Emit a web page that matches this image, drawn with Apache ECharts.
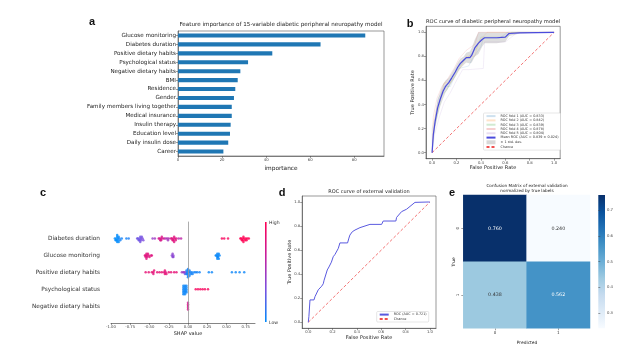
<!DOCTYPE html>
<html>
<head>
<meta charset="utf-8">
<script src="https://cdn.jsdelivr.net/npm/echarts@6.0.0/dist/echarts.min.js"></script>
<style>
  html, body { margin: 0; padding: 0; background: #fff; }
  #main { width: 640px; height: 351px; }
</style>
</head>
<body>
<div id="main"></div>
<script>
// ---- panel a: feature importance
const featureNames = ['Glucose monitoring', 'Diabetes duration', 'Positive dietary habits', 'Psychological status',
  'Negative dietary habits', 'BMI', 'Residence', 'Gender', 'Family members living together', 'Medical insurance',
  'Insulin therapy', 'Education level', 'Daily insulin dose', 'Career'];
const importance = [85.0, 64.7, 42.8, 31.8, 28.3, 27.1, 26.0, 25.4, 24.4, 24.4, 23.9, 23.6, 22.8, 20.6];
const importanceTicks = [0, 20, 40, 60, 80];

// ---- panel b: cross-validated ROC
const fold1 = [[0,0],[0,0.2],[0.03,0.3],[0.05,0.45],[0.08,0.5],[0.1,0.55],[0.15,0.55],[0.18,0.62],[0.22,0.7],[0.3,0.72],[0.33,0.78],[0.4,0.88],[0.42,0.95],[0.55,0.95],[0.62,1],[1,1]];
const fold2 = [[0,0],[0.01,0.25],[0.04,0.38],[0.06,0.42],[0.1,0.58],[0.15,0.58],[0.2,0.65],[0.24,0.72],[0.28,0.8],[0.35,0.8],[0.38,0.92],[0.45,1],[1,1]];
const fold3 = [[0,0],[0.02,0.22],[0.05,0.35],[0.08,0.48],[0.12,0.52],[0.16,0.6],[0.2,0.68],[0.25,0.75],[0.3,0.8],[0.36,0.86],[0.4,0.96],[0.62,0.96],[0.65,1],[1,1]];
const fold4 = [[0,0],[0.01,0.3],[0.04,0.45],[0.08,0.55],[0.12,0.6],[0.18,0.7],[0.22,0.78],[0.28,0.85],[0.35,0.9],[0.38,1],[1,1]];
const fold5 = [[0,0],[0.02,0.15],[0.06,0.3],[0.1,0.42],[0.15,0.5],[0.2,0.6],[0.25,0.69],[0.3,0.69],[0.42,0.7],[0.43,0.92],[0.6,0.92],[0.7,1],[1,1]];
const foldNames = ['ROC fold 1 (AUC = 0.833)', 'ROC fold 2 (AUC = 0.842)', 'ROC fold 3 (AUC = 0.839)',
  'ROC fold 4 (AUC = 0.878)', 'ROC fold 5 (AUC = 0.804)'];
const meanFpr = [0,0.01,0.025,0.045,0.065,0.09,0.11,0.135,0.16,0.19,0.21,0.23,0.26,0.28,0.31,0.325,0.35,0.38,0.41,0.43,0.53,0.6,0.63,0.72,1.0];
const meanTpr = [0,0.15,0.26,0.37,0.44,0.51,0.55,0.58,0.62,0.67,0.71,0.74,0.77,0.79,0.79,0.81,0.87,0.91,0.94,0.955,0.955,0.96,0.99,0.995,1.0];
const stdUpper = [0,0.2,0.32,0.44,0.5,0.57,0.6,0.62,0.66,0.71,0.75,0.78,0.8,0.83,0.84,0.87,0.94,1,1,1,1,1,1,1,1];
const stdLower = [0,0.1,0.2,0.3,0.38,0.45,0.5,0.54,0.58,0.63,0.67,0.7,0.73,0.75,0.74,0.75,0.8,0.82,0.88,0.91,0.91,0.92,0.97,0.99,1];
const rocTicks = [0, 0.2, 0.4, 0.6, 0.8, 1.0];

// ---- panel c: SHAP summary, [shap value, feature value 0..1]
const shapFeatures = ['Diabetes duration', 'Glucose monitoring', 'Positive dietary habits', 'Psychological status', 'Negative dietary habits'];
const shapDuration = [[-0.95,0],[-0.94,0],[-0.93,0],[-0.93,0],[-0.92,0],[-0.92,0],[-0.92,0],[-0.91,0],[-0.91,0],[-0.90,0],[-0.90,0],[-0.89,0.05],[-0.88,0.05],[-0.86,0.05],
  [-0.80,0.05],[-0.77,0.08],
  [-0.66,0.3],[-0.65,0.3],[-0.64,0.3],[-0.63,0.3],[-0.63,0.3],[-0.62,0.3],[-0.62,0.32],[-0.61,0.32],[-0.61,0.32],[-0.60,0.32],[-0.59,0.35],[-0.58,0.35],
  [-0.46,0.45],[-0.43,0.5],
  [-0.38,0.75],[-0.37,0.75],[-0.36,0.78],[-0.35,0.78],[-0.35,0.75],[-0.34,0.78],[-0.33,0.75],[-0.31,0.72],
  [-0.29,0.55],[-0.27,0.55],[-0.26,0.5],[-0.25,0.55],
  [-0.22,0.8],[-0.21,0.8],[-0.20,0.82],[-0.19,0.8],[-0.19,0.82],[-0.18,0.8],[-0.18,0.8],[-0.17,0.82],[-0.16,0.8],[-0.15,0.8],
  [-0.12,0.6],[-0.09,0.62],
  [0.44,0.95],[0.47,0.95],[0.52,0.95],
  [0.68,1],[0.69,1],[0.70,1],[0.71,1],[0.71,1],[0.72,1],[0.72,1],[0.73,1],[0.74,1],[0.75,1],[0.76,1],[0.77,1],[0.79,1]];
const shapGlucose = [[-0.56,0.82],[-0.55,0.82],[-0.55,0.8],[-0.54,0.82],[-0.54,0.8],[-0.53,0.82],[-0.53,0.8],[-0.52,0.82],[-0.51,0.8],[-0.50,0.82],[-0.48,0.8],[-0.47,0.8],
  [-0.21,0.4],[-0.20,0.4],[-0.20,0.42],[-0.19,0.4],[-0.19,0.4],
  [0.36,0.02],[0.37,0.02],[0.38,0.02],[0.38,0.02],[0.38,0.02],[0.39,0.02],[0.39,0.02],[0.40,0.02],[0.40,0.02],[0.41,0.02]];
const shapPositive = [[-0.55,0.85],[-0.51,0.85],[-0.47,0.85],[-0.45,0.85],[-0.45,0.82],[-0.44,0.85],[-0.40,0.85],[-0.37,0.85],[-0.34,0.85],[-0.31,0.82],[-0.30,0.85],[-0.30,0.85],[-0.29,0.82],[-0.28,0.85],[-0.25,0.85],[-0.22,0.85],[-0.18,0.85],[-0.15,0.85],
  [-0.08,0.5],[-0.06,0.45],[-0.05,0.5],[-0.04,0.3],[-0.03,0.4],
  [-0.02,0.05],[-0.02,0.05],[-0.01,0.05],[-0.01,0.05],[0,0.05],[0,0.05],[0,0.05],[0,0.05],[0.01,0.05],[0.01,0.05],[0.02,0.05],[0.02,0.05],[0.03,0.05],[0.04,0.05],[0.05,0.05],[0.06,0.05],[0.08,0.05],[0.10,0.05],[0.12,0.05],[0.15,0.05],
  [0.27,0.03],[0.31,0.03],
  [0.57,0.03],[0.62,0.03],[0.67,0.03],[0.73,0.03]];
const shapPsych = [[-0.06,0.03],[-0.06,0.03],[-0.06,0.03],[-0.06,0.03],[-0.06,0.03],[-0.06,0.03],
  [-0.04,0.03],[-0.04,0.03],[-0.04,0.03],[-0.04,0.03],[-0.04,0.03],[-0.04,0.03],
  [-0.02,0.03],[-0.02,0.03],[-0.02,0.03],[-0.02,0.03],[-0.02,0.03],
  [0.10,0.95],[0.13,0.95],[0.16,0.95],[0.19,0.95],[0.22,0.95],[0.26,0.95]];
const shapNegative = [[0,0.72],[0,0.75],[0,0.78],[0,0.75],[0,0.7]];
const shapTicks = [-1.0, -0.75, -0.5, -0.25, 0, 0.25, 0.5, 0.75];

// ---- panel d: external validation ROC
const extFpr = [0,0.005,0.014,0.047,0.055,0.082,0.096,0.11,0.123,0.13,0.145,0.156,0.17,0.19,0.205,0.22,0.233,0.247,0.26,0.323,0.334,0.342,0.356,0.362,0.384,0.425,0.507,0.603,0.616,0.72,0.726,0.74,0.767,0.808,0.877,0.986,1];
const extTpr = [0,0.047,0.186,0.186,0.213,0.27,0.28,0.3,0.32,0.35,0.357,0.435,0.46,0.5,0.545,0.565,0.573,0.615,0.66,0.66,0.7,0.725,0.73,0.753,0.767,0.787,0.814,0.814,0.842,0.842,0.872,0.884,0.92,0.94,0.997,1,1];

// ---- panel e: confusion matrix
const cmLabels = ['0', '1'];
const cmValues = [[0.760, 0.240], [0.438, 0.562]];
const cmBarTicks = [0.3, 0.4, 0.5, 0.6, 0.7];
const blues = ['#f7fbff','#deebf7','#c6dbef','#9ecae1','#6baed6','#4292c6','#2171b5','#08519c','#08306b'];

const FONT = 'DejaVu Sans';

function swarm(points, row) {
  const bins = {};
  return points.slice().sort((a, b) => a[0] - b[0]).map(p => {
    const b = Math.round(p[0] / 0.02);
    const n = bins[b] = (bins[b] === undefined ? 0 : bins[b] + 1);
    const off = Math.min(0.4, Math.ceil(n / 2) * 0.1) * (n % 2 ? 1 : -1);
    return [p[0], row + off, p[1]];
  });
}

function txt(text, x, y, size, opts) {
  opts = opts || {};
  return {
    type: 'text', x: x, y: y, rotation: opts.rot || 0, silent: true,
    style: {
      text: text, fontSize: size, fontFamily: opts.family || FONT, fontWeight: opts.weight || 'normal',
      fill: opts.color || '#222', align: opts.align || 'center', verticalAlign: 'middle'
    }
  };
}

function valueAxis(grid, min, max, ticks, digits, extra) {
  return Object.assign({
    type: 'value', gridIndex: grid, min: min, max: max,
    axisLine: { show: true, onZero: false, lineStyle: { color: '#444', width: 0.6 } },
    axisTick: { show: true, length: 2, customValues: ticks, lineStyle: { color: '#444', width: 0.5 } },
    axisLabel: { customValues: ticks, fontSize: 3.8, color: '#444', fontFamily: FONT, margin: 2,
      formatter: v => v.toFixed(digits) },
    splitLine: { show: false }
  }, extra || {});
}

const chart = echarts.init(document.getElementById('main'), null, { renderer: 'canvas' });

const shapData = []
  .concat(swarm(shapDuration, 0), swarm(shapGlucose, 1), swarm(shapPositive, 2),
    swarm(shapPsych, 3), swarm(shapNegative, 4));

const heatData = [];
cmValues.forEach((row, i) => row.forEach((v, j) => {
  heatData.push({ value: [j, i, v], label: { color: v > 0.5 ? '#fff' : '#333' } });
}));

const foldColors = ['rgba(31,119,180,0.22)', 'rgba(255,127,14,0.22)', 'rgba(44,160,44,0.22)',
  'rgba(214,39,40,0.22)', 'rgba(148,103,189,0.22)'];
const folds = [fold1, fold2, fold3, fold4, fold5];
const hideDot = { opacity: 0 };

const option = {
  animation: false,
  backgroundColor: '#fff',
  grid: [
    { left: 178, top: 31, width: 206, height: 125, show: true, borderColor: '#555', borderWidth: 0.6 },
    { left: 426, top: 26.3, width: 134.2, height: 132.4, show: true, borderColor: '#555', borderWidth: 0.6 },
    { left: 111, top: 221.6, width: 144, height: 101.4 },
    { left: 302.2, top: 196, width: 133.8, height: 132.3, show: true, borderColor: '#555', borderWidth: 0.6 },
    { left: 463.3, top: 195, width: 126.7, height: 133.3 },
    { left: 598.3, top: 195, width: 6.7, height: 133.3 }
  ],
  xAxis: [
    valueAxis(0, 0, 93.5, importanceTicks, 0),
    valueAxis(1, -0.05, 1.05, rocTicks, 1),
    valueAxis(2, -1.0, 0.87, shapTicks, 2, { axisLine: { show: true, onZero: false, lineStyle: { color: '#333', width: 0.6 } } }),
    valueAxis(3, -0.05, 1.05, rocTicks, 1),
    { type: 'category', gridIndex: 4, data: cmLabels, axisLine: { show: false },
      axisTick: { show: true, length: 2, alignWithLabel: true, lineStyle: { color: '#444', width: 0.5 } },
      axisLabel: { fontSize: 4, color: '#333', fontFamily: FONT, margin: 3 } },
    { type: 'value', gridIndex: 5, show: false, min: 0, max: 1 }
  ],
  yAxis: [
    { type: 'category', gridIndex: 0, data: featureNames, inverse: true,
      axisLine: { show: true, onZero: false, lineStyle: { color: '#444', width: 0.6 } },
      axisTick: { show: true, length: 2, alignWithLabel: true, lineStyle: { color: '#444', width: 0.5 } },
      axisLabel: { fontSize: 5.6, color: '#222', fontFamily: FONT, margin: 2 } },
    valueAxis(1, -0.05, 1.05, rocTicks, 1),
    { type: 'value', gridIndex: 2, min: -1, max: 5, inverse: true,
      axisLine: { show: false, onZero: false }, splitLine: { show: false },
      axisTick: { show: false },
      axisLabel: { customValues: [0, 1, 2, 3, 4], fontSize: 5.8, color: '#333', fontFamily: FONT, margin: 11,
        formatter: v => shapFeatures[v] } },
    valueAxis(3, -0.05, 1.05, rocTicks, 1),
    { type: 'category', gridIndex: 4, data: cmLabels, inverse: true, axisLine: { show: false },
      axisTick: { show: true, length: 2, alignWithLabel: true, lineStyle: { color: '#444', width: 0.5 } },
      axisLabel: { fontSize: 4, color: '#333', fontFamily: FONT, margin: 3, rotate: 90 } },
    { type: 'value', gridIndex: 5, position: 'right', min: 0.24, max: 0.76,
      axisLine: { show: false }, splitLine: { show: false },
      axisTick: { show: true, length: 2, customValues: cmBarTicks, lineStyle: { color: '#444', width: 0.5 } },
      axisLabel: { customValues: cmBarTicks, fontSize: 3.8, color: '#444', fontFamily: FONT, margin: 2,
        formatter: v => v.toFixed(1) } }
  ],
  visualMap: [
    { type: 'continuous', show: false, seriesIndex: 9, dimension: 2, min: 0, max: 1,
      inRange: { color: ['#008bfb', '#7a4fe0', '#c81c9c', '#ff0052'] } },
    { type: 'continuous', show: false, seriesIndex: 10, dimension: 2, min: 0.24, max: 0.76,
      inRange: { color: blues } }
  ],
  legend: [
    { orient: 'vertical', left: 483.5, top: 113, itemWidth: 9, itemHeight: 4, itemGap: 1.1,
      padding: [1.5, 2], borderColor: '#ccc', borderWidth: 0.5, borderRadius: 1, backgroundColor: '#fff',
      textStyle: { fontSize: 3.4, color: '#333', fontFamily: FONT },
      data: foldNames.map(n => ({ name: n, itemStyle: hideDot }))
        .concat([{ name: 'Mean ROC (AUC = 0.839 ± 0.024)', itemStyle: hideDot },
          { name: '± 1 std. dev.', icon: 'rect', itemStyle: { color: '#d8d8d8', opacity: 1 } },
          { name: 'Chance', itemStyle: hideDot }]) },
    { orient: 'vertical', left: 376.7, top: 311.5, itemWidth: 9, itemHeight: 4, itemGap: 1.1,
      padding: [1.5, 2], borderColor: '#ccc', borderWidth: 0.5, borderRadius: 1, backgroundColor: '#fff',
      textStyle: { fontSize: 3.4, color: '#333', fontFamily: FONT },
      data: [{ name: 'ROC (AUC = 0.721)', itemStyle: hideDot }, { name: 'Chance', itemStyle: hideDot }] }
  ],
  series: [
    // 0: importance bars
    { type: 'bar', xAxisIndex: 0, yAxisIndex: 0, data: importance, barWidth: '46%',
      itemStyle: { color: '#1f77b4' } },
    // 1: std band polygon between upper and lower edges
    { type: 'custom', name: '± 1 std. dev.', xAxisIndex: 1, yAxisIndex: 1, data: [[0, 0]], silent: true,
      itemStyle: { color: '#d8d8d8' }, z: 1,
      renderItem: (params, api) => {
        const pts = [];
        meanFpr.forEach((f, i) => pts.push(api.coord([f, stdUpper[i]])));
        for (let i = meanFpr.length - 1; i >= 0; i--) pts.push(api.coord([meanFpr[i], stdLower[i]]));
        return { type: 'polygon', shape: { points: pts }, style: { fill: '#dedede', stroke: null } };
      } },
    // 2-6: folds
    ...folds.map((f, i) => ({
      type: 'line', name: foldNames[i], xAxisIndex: 1, yAxisIndex: 1, data: f, symbol: 'none', z: 2,
      lineStyle: { color: foldColors[i], width: 0.5 }, itemStyle: { color: foldColors[i] }
    })),
    // 7: mean ROC
    { type: 'line', name: 'Mean ROC (AUC = 0.839 ± 0.024)', xAxisIndex: 1, yAxisIndex: 1, symbol: 'none', z: 4,
      data: meanFpr.map((f, i) => [f, meanTpr[i]]),
      lineStyle: { color: '#4b4bdc', width: 1.2 }, itemStyle: { color: '#4b4bdc' } },
    // 8: chance (b)
    { type: 'line', name: 'Chance', xAxisIndex: 1, yAxisIndex: 1, symbol: 'none', z: 3,
      data: [[0, 0], [1, 1]],
      lineStyle: { color: '#f05050', width: 0.8, type: [3, 2] }, itemStyle: { color: '#f05050' } },
    // 9: SHAP beeswarm
    { type: 'scatter', xAxisIndex: 2, yAxisIndex: 2, data: shapData, symbolSize: 2.5, z: 3,
      markLine: { silent: true, symbol: 'none', label: { show: false },
        lineStyle: { color: '#999', width: 0.8, type: 'solid' }, data: [{ xAxis: 0 }] } },
    // 10: confusion matrix
    { type: 'heatmap', xAxisIndex: 4, yAxisIndex: 4, data: heatData,
      label: { show: true, fontSize: 4.8, fontFamily: FONT, formatter: p => p.value[2].toFixed(3) } },
    // 11: external ROC
    { type: 'line', name: 'ROC (AUC = 0.721)', xAxisIndex: 3, yAxisIndex: 3, symbol: 'none', z: 4,
      data: extFpr.map((f, i) => [f, extTpr[i]]),
      lineStyle: { color: '#5a5ae0', width: 1.0 }, itemStyle: { color: '#5a5ae0' } },
    // 12: chance (d)
    { type: 'line', name: 'Chance', xAxisIndex: 3, yAxisIndex: 3, symbol: 'none', z: 3,
      data: [[0, 0], [1, 1]],
      lineStyle: { color: '#f05050', width: 0.8, type: [3, 2] }, itemStyle: { color: '#f05050' } }
  ],
  graphic: [
    // panel letters
    txt('a', 92, 22, 11, { weight: 'bold', family: 'Liberation Sans', color: '#111' }),
    txt('b', 410, 24, 11, { weight: 'bold', family: 'Liberation Sans', color: '#111' }),
    txt('c', 43, 193, 11, { weight: 'bold', family: 'Liberation Sans', color: '#111' }),
    txt('d', 282, 193, 11, { weight: 'bold', family: 'Liberation Sans', color: '#111' }),
    txt('e', 452, 193, 11, { weight: 'bold', family: 'Liberation Sans', color: '#111' }),
    // panel a
    txt('Feature importance of 15-variable diabetic peripheral neuropathy model', 281, 24.5, 5.6),
    txt('importance', 281, 168, 5.8),
    // panel b
    txt('ROC curve of diabetic peripheral neuropathy model', 493, 22, 5.2),
    txt('True Positive Rate', 413, 92.5, 5, { rot: Math.PI / 2 }),
    txt('False Positive Rate', 493, 167.5, 5),
    // panel c
    txt('SHAP value', 188, 334, 5),
    { type: 'rect', x: 265, y: 222, shape: { width: 1.6, height: 100 }, silent: true,
      style: { fill: new echarts.graphic.LinearGradient(0, 0, 0, 1, [
        { offset: 0, color: '#ff0052' }, { offset: 0.33, color: '#c81c9c' },
        { offset: 0.67, color: '#7a4fe0' }, { offset: 1, color: '#008bfb' }]) } },
    txt('High', 269, 222.5, 4.6, { align: 'left', color: '#333' }),
    txt('Low', 269, 323, 4.6, { align: 'left', color: '#333' }),
    // panel d
    txt('ROC curve of external validation', 369, 191.5, 5),
    txt('True Positive Rate', 290, 262, 5, { rot: Math.PI / 2 }),
    txt('False Positive Rate', 369, 338, 5),
    // panel e
    txt('Confusion Matrix of external validation', 527, 185.5, 4.2),
    txt('normalized by true labels', 527, 191, 4.2),
    txt('True', 454, 262, 4.4, { rot: Math.PI / 2 }),
    txt('Predicted', 527, 343, 4.4),
    { type: 'rect', x: 598.3, y: 195, shape: { width: 6.7, height: 133.3 }, silent: true,
      style: { fill: new echarts.graphic.LinearGradient(0, 1, 0, 0,
        blues.map((c, i) => ({ offset: i / (blues.length - 1), color: c }))) } }
  ]
};

chart.setOption(option);
window.addEventListener('resize', () => chart.resize());
</script>
</body>
</html>
